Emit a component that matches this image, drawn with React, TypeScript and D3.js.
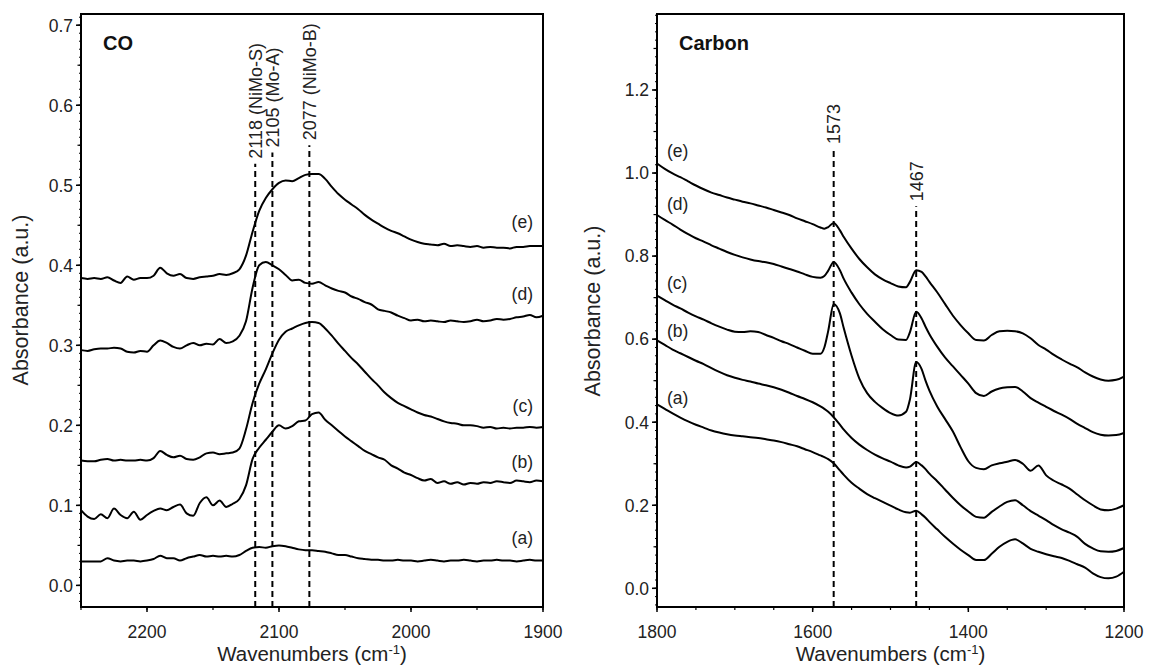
import React from 'react';
import * as d3 from 'd3';

// ---------- CO panel data ----------
const coWave = [2250,2245,2240,2235,2230,2225,2220,2215,2210,2205,2200,2195,2190,2185,2180,2175,2170,2165,2160,2155,2150,2145,2140,2135,2130,2125,2120,2115,2110,2105,2100,2095,2090,2085,2080,2075,2070,2065,2060,2055,2050,2045,2040,2035,2030,2025,2020,2015,2010,2005,2000,1995,1990,1985,1980,1975,1970,1965,1960,1955,1950,1945,1940,1935,1930,1925,1920,1915,1910,1905,1900];
const coE = [.384,.383,.384,.383,.385,.381,.378,.386,.382,.384,.384,.387,.397,.390,.387,.389,.384,.383,.385,.386,.387,.389,.388,.390,.395,.412,.442,.468,.484,.495,.503,.506,.505,.509,.513,.514,.514,.508,.498,.489,.482,.476,.470,.463,.457,.452,.447,.443,.440,.436,.432,.429,.427,.426,.425,.427,.424,.425,.424,.423,.424,.422,.423,.422,.422,.421,.423,.423,.424,.424,.424];
const coD = [.294,.293,.295,.296,.296,.297,.296,.292,.291,.293,.292,.300,.306,.303,.298,.296,.300,.303,.300,.302,.301,.308,.303,.305,.312,.330,.372,.400,.404,.400,.395,.388,.381,.382,.378,.377,.379,.375,.371,.368,.366,.361,.358,.354,.351,.345,.343,.341,.337,.334,.331,.332,.330,.331,.330,.329,.331,.330,.329,.330,.332,.330,.331,.333,.332,.333,.335,.336,.338,.335,.337];
const coC = [.156,.155,.155,.157,.158,.156,.157,.156,.156,.157,.156,.159,.168,.163,.160,.162,.158,.157,.160,.165,.166,.164,.165,.166,.171,.195,.228,.252,.270,.290,.307,.317,.321,.325,.328,.329,.328,.321,.312,.302,.293,.284,.276,.267,.258,.250,.241,.234,.228,.224,.220,.216,.213,.211,.208,.205,.203,.202,.200,.200,.199,.197,.198,.196,.197,.196,.197,.197,.198,.197,.198];
const coB = [.094,.086,.083,.089,.084,.096,.088,.084,.092,.082,.088,.093,.096,.094,.098,.101,.090,.087,.103,.110,.100,.106,.098,.102,.108,.125,.158,.172,.182,.192,.200,.196,.199,.205,.206,.214,.216,.207,.200,.193,.186,.180,.174,.168,.164,.160,.157,.150,.146,.141,.138,.134,.131,.133,.128,.130,.127,.129,.126,.128,.127,.129,.128,.130,.129,.128,.131,.130,.129,.131,.130];
const coA = [.030,.030,.030,.030,.034,.031,.030,.031,.031,.030,.031,.033,.037,.034,.034,.031,.034,.036,.038,.036,.037,.036,.037,.036,.038,.043,.047,.048,.047,.049,.050,.049,.047,.045,.044,.044,.043,.042,.040,.038,.038,.036,.034,.033,.032,.032,.031,.031,.032,.031,.031,.030,.031,.032,.031,.030,.031,.031,.032,.031,.030,.031,.031,.032,.031,.031,.030,.031,.032,.031,.031];
const coSeries = [coA, coB, coC, coD, coE];
const seriesNames = ['(a)', '(b)', '(c)', '(d)', '(e)'];
const coLabelValues = [0.059, 0.154, 0.224, 0.365, 0.455];

const coPeaks = [2118, 2105, 2077];
const coPeakLabels = ['2118 (NiMo-S)', '2105 (Mo-A)', '2077 (NiMo-B)'];
const coPeakTops = [0.527, 0.541, 0.550];

const coXTicks = [2200, 2100, 2000, 1900];
const coYTicks = [0.0, 0.1, 0.2, 0.3, 0.4, 0.5, 0.6, 0.7];

// ---------- Carbon panel data ----------
const cWave = [1800,1790,1780,1770,1760,1750,1740,1730,1720,1710,1700,1690,1680,1670,1660,1650,1640,1630,1620,1610,1600,1590,1585,1580,1573,1565,1560,1550,1540,1530,1520,1510,1500,1490,1480,1475,1467,1460,1455,1450,1440,1430,1420,1410,1400,1390,1380,1370,1360,1350,1340,1330,1320,1310,1300,1290,1280,1270,1260,1250,1240,1230,1220,1210,1200];
const cE = [1.023,1.010,0.999,0.990,0.980,0.970,0.961,0.953,0.947,0.941,0.936,0.931,0.927,0.922,0.917,0.911,0.905,0.899,0.891,0.884,0.877,0.869,0.866,0.870,0.880,0.862,0.846,0.818,0.793,0.773,0.756,0.744,0.735,0.727,0.725,0.738,0.766,0.762,0.751,0.738,0.713,0.685,0.657,0.634,0.614,0.598,0.597,0.610,0.619,0.620,0.619,0.614,0.602,0.586,0.575,0.562,0.551,0.541,0.532,0.520,0.510,0.503,0.500,0.502,0.510];
const cD = [0.899,0.887,0.876,0.864,0.853,0.843,0.835,0.826,0.818,0.810,0.803,0.797,0.792,0.788,0.785,0.781,0.775,0.769,0.763,0.756,0.750,0.748,0.752,0.765,0.786,0.766,0.745,0.712,0.684,0.661,0.642,0.624,0.610,0.599,0.598,0.617,0.666,0.650,0.630,0.612,0.582,0.556,0.535,0.514,0.493,0.470,0.463,0.474,0.481,0.484,0.485,0.474,0.458,0.447,0.437,0.427,0.418,0.408,0.396,0.386,0.376,0.370,0.368,0.369,0.374];
const cC = [0.705,0.694,0.683,0.674,0.664,0.655,0.647,0.638,0.630,0.623,0.618,0.617,0.619,0.617,0.610,0.603,0.595,0.588,0.580,0.572,0.565,0.565,0.580,0.620,0.684,0.662,0.626,0.560,0.505,0.470,0.449,0.434,0.422,0.416,0.425,0.455,0.545,0.528,0.500,0.476,0.438,0.408,0.378,0.340,0.306,0.290,0.287,0.296,0.301,0.305,0.309,0.300,0.283,0.296,0.272,0.259,0.250,0.240,0.226,0.212,0.200,0.190,0.188,0.192,0.200];
const cB = [0.597,0.586,0.575,0.566,0.557,0.548,0.540,0.530,0.521,0.513,0.507,0.502,0.498,0.493,0.489,0.484,0.478,0.471,0.463,0.456,0.448,0.438,0.432,0.425,0.412,0.394,0.382,0.362,0.346,0.333,0.322,0.313,0.305,0.296,0.291,0.293,0.304,0.296,0.287,0.276,0.258,0.238,0.218,0.200,0.185,0.172,0.170,0.184,0.197,0.208,0.212,0.200,0.186,0.175,0.164,0.152,0.142,0.134,0.124,0.107,0.096,0.089,0.088,0.090,0.097];
const cA = [0.443,0.432,0.421,0.411,0.402,0.394,0.387,0.380,0.375,0.371,0.368,0.366,0.364,0.362,0.359,0.356,0.352,0.347,0.342,0.335,0.328,0.320,0.316,0.311,0.301,0.284,0.273,0.254,0.240,0.227,0.217,0.208,0.199,0.190,0.183,0.182,0.187,0.178,0.170,0.160,0.142,0.124,0.108,0.093,0.080,0.068,0.068,0.083,0.100,0.112,0.118,0.108,0.095,0.088,0.082,0.077,0.073,0.066,0.058,0.050,0.036,0.027,0.024,0.028,0.040];
const cSeries = [cA, cB, cC, cD, cE];
const cLabelValues = [0.46, 0.62, 0.735, 0.925, 1.055];

const cPeaks = [1573, 1467];
const cPeakLabels = ['1573', '1467'];
const cPeakTops = [1.058, 0.92];

const cXTicks = [1800, 1600, 1400, 1200];
const cYTicks = [0.0, 0.2, 0.4, 0.6, 0.8, 1.0, 1.2];

const FONT = '"Liberation Sans", Arial, Helvetica, sans-serif';

type PanelProps = {
  x0: number; x1: number; y0: number; y1: number;
  xDomain: [number, number]; yDomain: [number, number];
  wave: number[]; series: number[][]; labelValues: number[]; labelLeft: boolean;
  peaks: number[]; peakLabels: string[]; peakTops: number[];
  xTicks: number[]; xMinorStep: number; yTicks: number[]; yMidStep: number; yMicroStep: number;
  yFmt: (v: number) => string; title: string; yTitleX: number; yTitleY: number;
};

function Panel(p: PanelProps) {
  const x = d3.scaleLinear().domain(p.xDomain).range([p.x0, p.x1]);
  const y = d3.scaleLinear().domain(p.yDomain).range([p.y1, p.y0]);
  const line = d3.line<[number, number]>().x(d => x(d[0])).y(d => y(d[1])).curve(d3.curveMonotoneX);

  const xMin = Math.min(...p.xDomain), xMax = Math.max(...p.xDomain);
  const xMinor: number[] = [];
  for (let v = Math.ceil(xMin / p.xMinorStep) * p.xMinorStep; v <= xMax + 1e-6; v += p.xMinorStep) xMinor.push(v);

  const yMicro: number[] = [];
  for (let v = Math.ceil(p.yDomain[0] / p.yMicroStep) * p.yMicroStep; v <= p.yDomain[1] + 1e-9; v += p.yMicroStep) yMicro.push(+v.toFixed(4));
  const yMid: number[] = [];
  for (let v = Math.ceil(p.yDomain[0] / p.yMidStep) * p.yMidStep; v <= p.yDomain[1] + 1e-9; v += p.yMidStep) yMid.push(+v.toFixed(4));

  const cx = (p.x0 + p.x1) / 2;
  return (
    <g>
      {yMicro.map((v, i) => (
        <line key={'ym' + i} x1={p.x0 - 2} x2={p.x0} y1={y(v)} y2={y(v)} stroke="#000" strokeWidth={1} />
      ))}
      {yMid.map((v, i) => (
        <line key={'yd' + i} x1={p.x0 - 3.5} x2={p.x0} y1={y(v)} y2={y(v)} stroke="#000" strokeWidth={1.2} />
      ))}
      {p.yTicks.map((v, i) => (
        <g key={'yt' + i}>
          <line x1={p.x0 - 5} x2={p.x0} y1={y(v)} y2={y(v)} stroke="#000" strokeWidth={1.5} />
          <text x={p.x0 - 8} y={y(v)} dy="0.36em" textAnchor="end" fontSize={17.5} fontFamily={FONT} fill="#222">{p.yFmt(v)}</text>
        </g>
      ))}
      {xMinor.map((v, i) => (
        <line key={'xm' + i} x1={x(v)} x2={x(v)} y1={p.y1} y2={p.y1 + 3} stroke="#000" strokeWidth={1.2} />
      ))}
      {p.xTicks.map((v, i) => (
        <g key={'xt' + i}>
          <line x1={x(v)} x2={x(v)} y1={p.y1} y2={p.y1 + 5} stroke="#000" strokeWidth={1.5} />
          <text x={x(v)} y={p.y1 + 31} textAnchor="middle" fontSize={17.5} fontFamily={FONT} fill="#222">{v}</text>
        </g>
      ))}
      {p.peaks.map((w, i) => (
        <g key={'pk' + i}>
          <line x1={x(w)} x2={x(w)} y1={p.y1} y2={y(p.peakTops[i])} stroke="#000" strokeWidth={2} strokeDasharray="6,4" />
          <text transform={`translate(${x(w) + 6.5},${y(p.peakTops[i]) - 5}) rotate(-90)`} fontSize={18} fontFamily={FONT} fill="#222">{p.peakLabels[i]}</text>
        </g>
      ))}
      {p.series.map((s, i) => (
        <path key={'s' + i} d={line(p.wave.map((w, j) => [w, s[j]] as [number, number])) || ''} fill="none" stroke="#000" strokeWidth={2} strokeLinejoin="round" />
      ))}
      {p.series.map((s, i) => (
        <text key={'lb' + i} x={p.labelLeft ? p.x0 + 10 : p.x1 - 10} y={y(p.labelValues[i])} dy="0.36em" textAnchor={p.labelLeft ? 'start' : 'end'} fontSize={17.5} fontFamily={FONT} fill="#222">{seriesNames[i]}</text>
      ))}
      <rect x={p.x0} y={p.y0} width={p.x1 - p.x0} height={p.y1 - p.y0} fill="none" stroke="#000" strokeWidth={2} />
      <text x={p.x0 + 22} y={p.y0 + 36} fontSize={20} fontWeight="bold" fontFamily={FONT} fill="#111">{p.title}</text>
      <text x={cx} y={p.y1 + 54} textAnchor="middle" fontSize={20.5} fontFamily={FONT} fill="#222">
        Wavenumbers (cm<tspan dy="-7" fontSize={13}>-1</tspan><tspan dy="7">)</tspan>
      </text>
      <text transform={`translate(${p.yTitleX},${p.yTitleY}) rotate(-90)`} textAnchor="middle" fontSize={21.5} fontFamily={FONT} fill="#222">Absorbance (a.u.)</text>
    </g>
  );
}

export default function App() {
  return (
    <svg width={1154} height={669} style={{ position: 'absolute', left: 0, top: 0, background: '#fff' }}>
      <rect width={1154} height={669} fill="#fff" />
      <Panel x0={81} x1={543} y0={14} y1={607} xDomain={[2250, 1900]} yDomain={[-0.027, 0.714]}
        wave={coWave} series={coSeries} labelValues={coLabelValues} labelLeft={false}
        peaks={coPeaks} peakLabels={coPeakLabels} peakTops={coPeakTops}
        xTicks={coXTicks} xMinorStep={50} yTicks={coYTicks} yMidStep={0.05} yMicroStep={0.01}
        yFmt={v => v.toFixed(1)} title="CO" yTitleX={28} yTitleY={300} />
      <Panel x0={657} x1={1124} y0={14} y1={607} xDomain={[1800, 1200]} yDomain={[-0.045, 1.383]}
        wave={cWave} series={cSeries} labelValues={cLabelValues} labelLeft={true}
        peaks={cPeaks} peakLabels={cPeakLabels} peakTops={cPeakTops}
        xTicks={cXTicks} xMinorStep={50} yTicks={cYTicks} yMidStep={0.1} yMicroStep={0.02}
        yFmt={v => v.toFixed(1)} title="Carbon" yTitleX={600} yTitleY={311} />
    </svg>
  );
}
